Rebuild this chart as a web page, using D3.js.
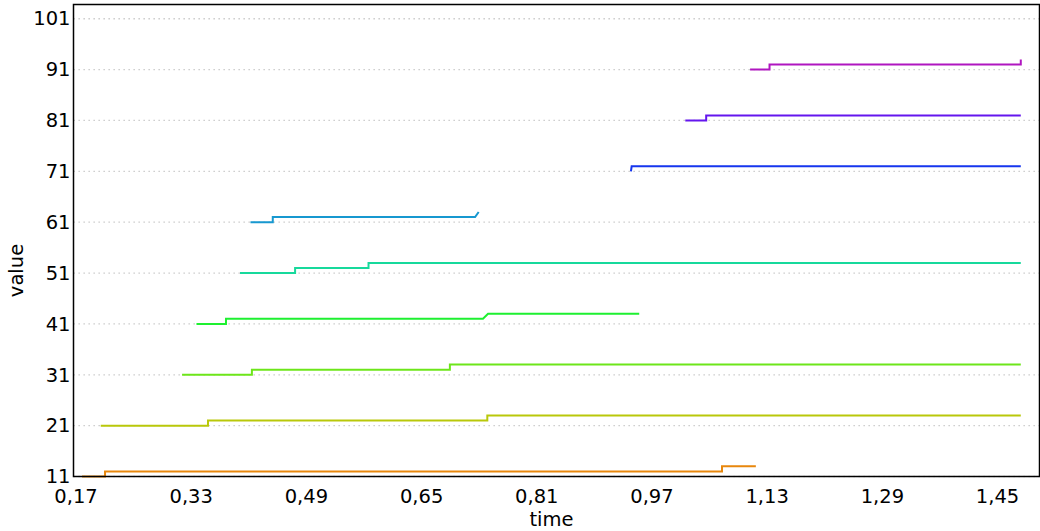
<!DOCTYPE html>
<html>
<head>
<meta charset="utf-8">
<script src="https://cdn.jsdelivr.net/npm/d3@7"></script>
<style>
	body { margin: 0; background: #fff; }
	text { font-family: "DejaVu Sans", sans-serif; }
</style>
</head>
<body>
<script>
// Chart values. Each series: [time, value] points.
var yTicks = [11, 21, 31, 41, 51, 61, 71, 81, 91, 101];
var xTicks = [0.17, 0.33, 0.49, 0.65, 0.81, 0.97, 1.13, 1.29, 1.45];

var seriesColors = ['#e8870c', '#b9c80a', '#6de61a', '#1ef030', '#17d99c', '#1798d0', '#1636ee', '#6416ee', '#b016c0'];

var s1 = [[0.179, 11], [0.211, 11], [0.211, 12], [1.068, 12], [1.068, 13], [1.115, 13]];
var s2 = [[0.205, 21], [0.354, 21], [0.354, 22], [0.742, 22], [0.742, 23], [1.483, 23]];
var s3 = [[0.318, 31], [0.415, 31], [0.415, 32], [0.690, 32], [0.690, 33], [1.483, 33]];
var s4 = [[0.338, 41], [0.379, 41], [0.379, 42], [0.736, 42], [0.743, 43], [0.953, 43]];
var s5 = [[0.3985, 51], [0.475, 51], [0.475, 52], [0.577, 52], [0.577, 53], [1.483, 53]];
var s6 = [[0.413, 61], [0.444, 61], [0.444, 62], [0.725, 62], [0.730, 63]];
var s7 = [[0.9415, 71], [0.9425, 72], [1.483, 72]];
var s8 = [[1.017, 81], [1.046, 81], [1.046, 82], [1.483, 82]];
var s9 = [[1.107, 91], [1.134, 91], [1.134, 92], [1.483, 92], [1.483, 93]];

var allSeries = [s1, s2, s3, s4, s5, s6, s7, s8, s9];

var W = 1040, H = 531;
var margin = {left: 73.5, top: 4.5, right: 0.5, bottom: 54.5};
var w = W - margin.left - margin.right,
    h = H - margin.top - margin.bottom;
var fontSize = '19.5px';

var svg = d3.select('body').append('svg')
	.attr('width', W)
	.attr('height', H);

var x = d3.scaleLinear().domain([0.1672, 1.509]).range([0, w]);
var y = d3.scaleLinear().domain([11, 103.8]).range([h, 0]);

var g = svg.append('g').attr('transform', 'translate(' + margin.left + ',' + margin.top + ')');

// Dotted horizontal grid.
g.append('g').selectAll('line')
	.data(yTicks)
	.enter().append('line')
	.attr('x1', 0).attr('x2', w)
	.attr('y1', function(d) { return y(d); })
	.attr('y2', function(d) { return y(d); })
	.attr('stroke', '#c4c4c4')
	.attr('stroke-width', 1.3)
	.attr('stroke-dasharray', '1.3,3.7');

var line = d3.line()
	.x(function(d) { return x(d[0]); })
	.y(function(d) { return y(d[1]); });

g.append('g').selectAll('path')
	.data(allSeries)
	.enter().append('path')
	.attr('d', line)
	.attr('fill', 'none')
	.attr('stroke', function(d, i) { return seriesColors[i]; })
	.attr('stroke-width', 2);

// Axes, ticks hidden, labels only.
var fmt = function(d) { return d3.format('.2f')(d).replace('.', ','); };

var xAxis = g.append('g')
	.attr('transform', 'translate(0,' + h + ')')
	.call(d3.axisBottom(x).tickValues(xTicks).tickFormat(fmt).tickSize(0).tickPadding(13));
var yAxis = g.append('g')
	.call(d3.axisLeft(y).tickValues(yTicks).tickSize(0).tickPadding(3));

[xAxis, yAxis].forEach(function(a) {
	a.select('.domain').remove();
	a.selectAll('text')
		.attr('fill', '#000')
		.style('font-family', '"DejaVu Sans", sans-serif')
		.style('font-size', fontSize);
});

// Frame.
g.append('rect')
	.attr('x', 0).attr('y', 0)
	.attr('width', w).attr('height', h)
	.attr('fill', 'none')
	.attr('stroke', '#000')
	.attr('stroke-width', 1.5);

svg.append('text')
	.attr('x', margin.left + w / 2 - 5)
	.attr('y', 526)
	.attr('text-anchor', 'middle')
	.style('font-size', fontSize)
	.text('time');

svg.append('text')
	.attr('transform', 'translate(23,' + (margin.top + h / 2 + 30) + ') rotate(-90)')
	.attr('text-anchor', 'middle')
	.style('font-size', fontSize)
	.text('value');
</script>
</body>
</html>
